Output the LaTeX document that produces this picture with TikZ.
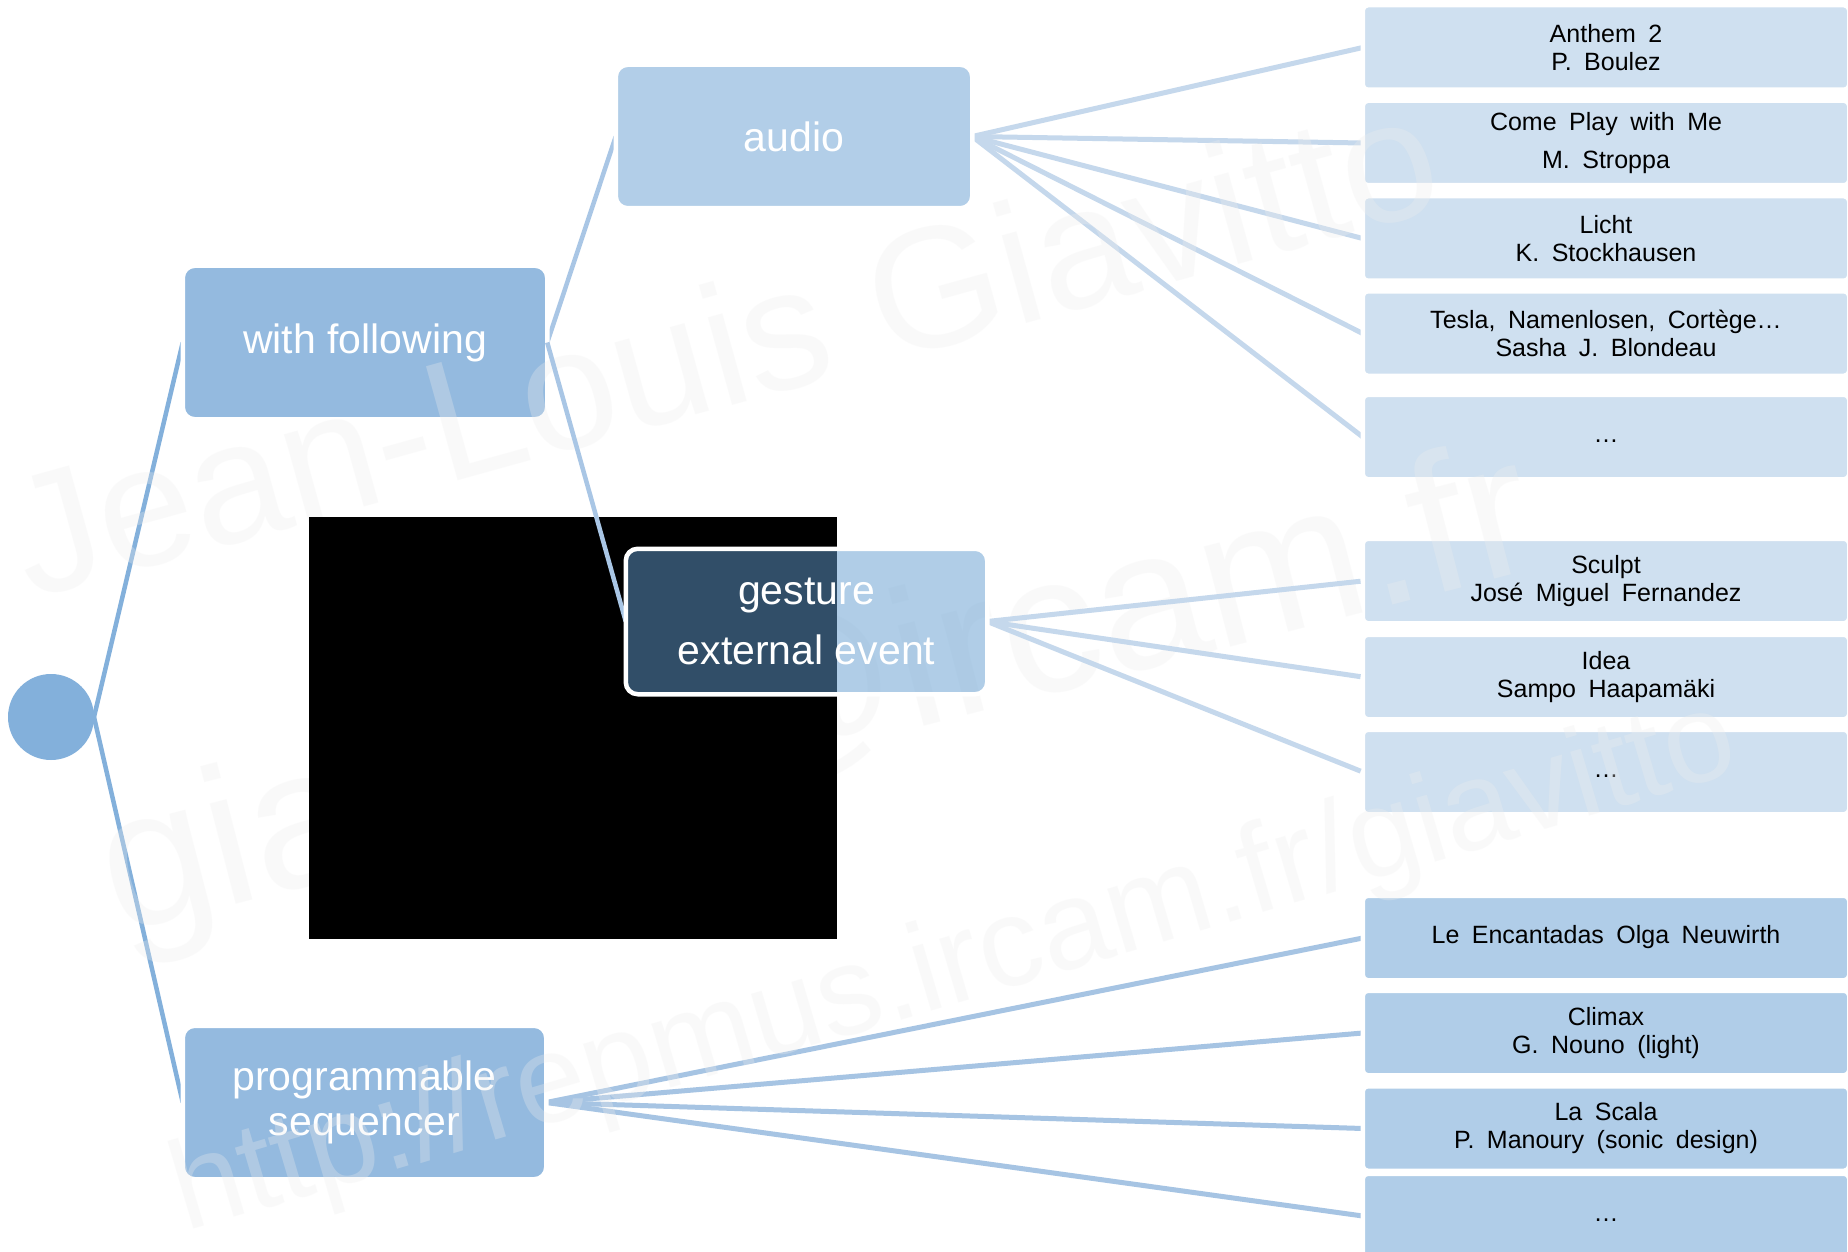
\documentclass[tikz,border=0pt]{standalone}
\usepackage{fontspec}
\setmainfont{Liberation Sans}
\newfontfamily\boxfont{Liberation Sans}[WordSpace=1.8]
\definecolor{circ}{HTML}{83B0DB}
\definecolor{lvlone}{HTML}{94BADF}
\definecolor{lvltwo}{HTML}{B2CEE8}
\definecolor{gest}{RGB}{98,157,209}
\definecolor{leafA}{HTML}{CFE0F0}
\definecolor{leafB}{HTML}{B0CDE8}
\definecolor{lineA}{HTML}{83B0DB}
\definecolor{lineB}{HTML}{A9C6E5}
\definecolor{lineC}{HTML}{C5D8EC}
\definecolor{lineD}{HTML}{A6C4E3}
\definecolor{wmark}{RGB}{238,238,238}
\pgfdeclarelayer{bg}
\pgfdeclarelayer{top}
\pgfsetlayers{bg,main,top}
\tikzset{
  mainbox/.style={rectangle, rounded corners=12pt, draw=white, line width=4.5pt,
    text=white, font=\fontsize{41}{45}\selectfont, align=center, inner sep=0pt, outer sep=0pt},
  leaf/.style={rectangle, rounded corners=5pt, draw=white, line width=4.5pt,
    minimum width=486.5pt, minimum height=84.5pt, inner sep=0pt, outer sep=0pt,
    align=center, text=black, font=\boxfont\fontsize{25}{28}\selectfont},
  leafa/.style={leaf, fill=leafA},
  leafb/.style={leaf, fill=leafB},
  conA/.style={draw=lineA, line width=4.5pt},
  conB/.style={draw=lineB, line width=4.5pt},
  conC/.style={draw=lineC, line width=5pt},
  conD/.style={draw=lineD, line width=5pt},
  wm/.style={text=wmark, opacity=0.3, anchor=base west, inner sep=0pt}
}
\begin{document}
\begin{tikzpicture}[x=1pt,y=-1pt]
\useasboundingbox (0,0) rectangle (1848,1252);
\begin{pgfonlayer}{bg}
\fill[white] (0,0) rectangle (1848,1252);
\end{pgfonlayer}

% leaves
\node[leafa] (a1) at (1606,47.5) {Anthem 2\\P. Boulez};
\node[leafa] (a2) at (1606,143) {Come Play with Me\\[10pt]M. Stroppa};
\node[leafa] (a3) at (1606,238.5) {Licht\\K. Stockhausen};
\node[leafa] (a4) at (1606,333.5) {Tesla, Namenlosen, Cortège\ldots\\Sasha J. Blondeau};
\node[leafa] (a5) at (1606,437) {\strut\ldots};
\node[leafa] (g1) at (1606,581) {Sculpt\\José Miguel Fernandez};
\node[leafa] (g2) at (1606,677) {Idea\\Sampo Haapamäki};
\node[leafa] (g3) at (1606,772) {\strut\ldots};
\node[leafb] (s1) at (1606,938) {\strut Le Encantadas Olga Neuwirth};
\node[leafb] (s2) at (1606,1033) {Climax\\G. Nouno (light)};
\node[leafb] (s3) at (1606,1128.5) {La Scala\\P. Manoury (sonic design)};
\node[leafb] (s4) at (1606,1216) {\strut\ldots};

% main boxes
\node[circle, fill=circ, minimum size=86pt, inner sep=0pt, outer sep=0pt] (root) at (51,717) {};
\node[mainbox, fill=lvlone, minimum width=364.5pt, minimum height=153.5pt] (wf) at (365,342.5) {with following};
\node[mainbox, fill=lvlone, minimum width=363.5pt, minimum height=153.5pt] (prog) at (364.5,1102.5) {programmable\\sequencer};
\node[mainbox, fill=lvltwo, minimum width=356.5pt, minimum height=143.5pt] (aud) at (794,136.5) {audio};

% connectors behind the boxes
\begin{pgfonlayer}{bg}
\draw[conA] (root.east) -- (wf.west);
\draw[conA] (root.east) -- (prog.west);
\draw[conB] (wf.east) -- (aud.west);
\foreach \t in {a1,a2,a3,a4,a5} \draw[conC] (aud.east) -- (\t.west);
\foreach \t in {s1,s2,s3,s4} \draw[conD] (prog.east) -- (\t.west);
\end{pgfonlayer}

% watermark
\node[wm, rotate=15.5, font=\fontsize{172}{180}\selectfont] (wm1) at (30,600) {Jean-Louis Giavitto};
\node[wm, rotate=14.5, font=\fontsize{196}{200}\selectfont] (wm2) at (118,935) {giavitto@ircam.fr};
\node[wm, rotate=16.5, font=\fontsize{126}{134}\selectfont] (wm3) at (185,1232) {http://repmus.ircam.fr/giavitto};

% black area
\fill[black] (309,517) rectangle (837,939);

% gesture box on top
\begin{pgfonlayer}{top}
\node[mainbox, fill=gest, fill opacity=0.5, text opacity=1, minimum width=361.5pt, minimum height=145.5pt] (ges) at (806.5,621.5) {gesture\\[15pt]external event};
\end{pgfonlayer}
\draw[conB] (wf.east) -- (ges.west);
\foreach \t in {g1,g2,g3} \draw[conC, shorten >=2.25pt] (ges.east) -- (\t.west);
\end{tikzpicture}
\end{document}
